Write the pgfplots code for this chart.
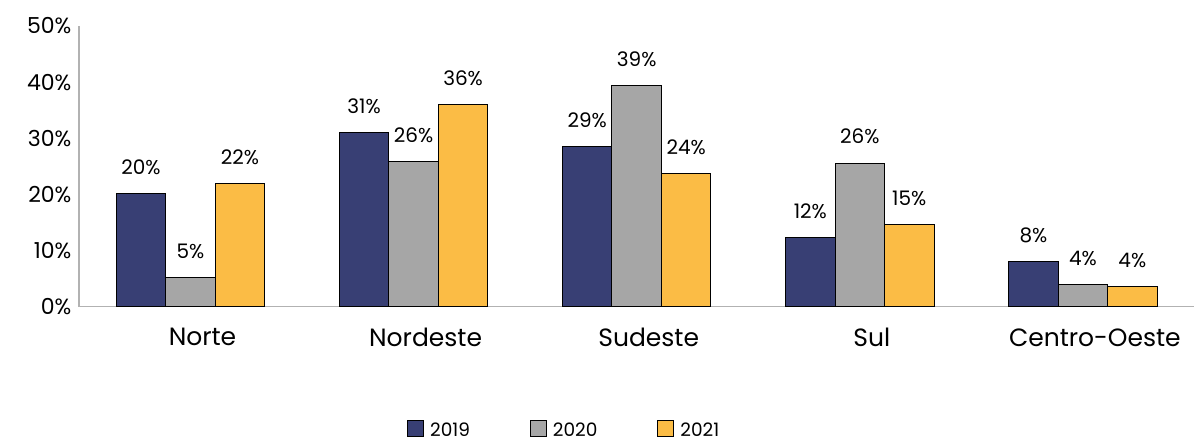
\documentclass[border=0pt]{standalone}
\usepackage{pgfplots}
\pgfplotsset{compat=1.18}
\usepackage{fontspec}
\setmainfont{Poppins}
\definecolor{c19}{HTML}{383F74}
\definecolor{c20}{HTML}{A6A6A6}
\definecolor{c21}{HTML}{FBBC45}
\begin{document}
\begin{tikzpicture}
\begin{axis}[
  scale only axis,
  width=1116pt, height=281pt,
  xmin=-0.5, xmax=4.5,
  ymin=0, ymax=50,
  ybar=0pt, bar width=49.5pt,
  axis x line=bottom, axis y line=left,
  axis line style={-, draw=black!30, line width=1.2pt},
  major tick length=0pt,
  xtick={0,1,2,3,4},
  xticklabels={Norte,Nordeste,Sudeste,Sul,Centro-Oeste},
  xticklabel style={font=\fontsize{25}{28}\selectfont, yshift=-18pt, xshift=12pt},
  ytick={0,10,20,30,40,50},
  yticklabel={\pgfmathprintnumber{\tick}\%},
  yticklabel style={font=\fontsize{22}{25}\selectfont, xshift=-4pt},
  /pgf/number format/assume math mode=true,
  point meta=explicit symbolic,
  nodes near coords,
  every node near coord/.append style={font=\fontsize{20}{23}\selectfont, black, yshift=15pt},
  legend style={at={(0.435,-0.438)}, anchor=center, draw=none, legend columns=3,
    font=\fontsize{18.5}{21}\selectfont,
    /tikz/every odd column/.append style={column sep=4pt},
    /tikz/every even column/.append style={column sep=58pt}},
  legend image code/.code={\draw[#1, draw=black, line width=1pt] (0pt,-6pt) rectangle (16pt,10pt);},
]
\addplot[fill=c19, draw=black, line width=1pt] coordinates {(0,20.1) [20\%] (1,31.0) [31\%] (2,28.6) [29\%] (3,12.4) [12\%] (4,8.0) [8\%]};
\addplot[fill=c20, draw=black, line width=1pt] coordinates {(0,5.2) [5\%] (1,25.8) [26\%] (2,39.4) [39\%] (3,25.6) [26\%] (4,3.9) [4\%]};
\addplot[fill=c21, draw=black, line width=1pt] coordinates {(0,21.9) [22\%] (1,36.1) [36\%] (2,23.8) [24\%] (3,14.6) [15\%] (4,3.6) [4\%]};
\legend{2019,2020,2021}
\end{axis}
\path[use as bounding box] (-79pt,-130pt) rectangle (1116pt,307pt);
\end{tikzpicture}
\end{document}
